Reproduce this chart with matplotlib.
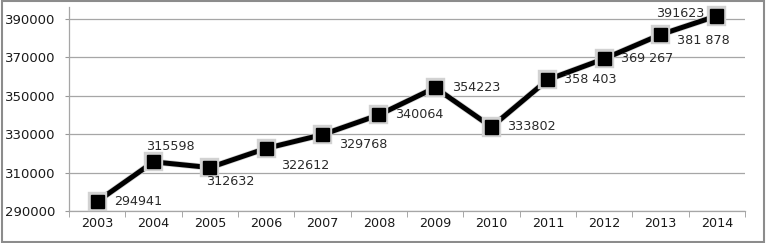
import matplotlib
matplotlib.use("Agg")
import matplotlib.pyplot as plt
import matplotlib.patheffects as pe
from matplotlib.patches import Rectangle

# ── Data ──────────────────────────────────────────────────────
years  = ["2003", "2004", "2005", "2006", "2007", "2008",
          "2009", "2010", "2011", "2012", "2013", "2014"]
values = [294941, 315598, 312632, 322612, 329768, 340064,
          354223, 333802, 358403, 369267, 381878, 391623]
labels = ["294941", "315598", "312632", "322612", "329768", "340064",
          "354223", "333802", "358 403", "369 267", "381 878", "391623"]
y_ticks = [290000, 310000, 330000, 350000, 370000, 390000]

# label placement (points offset, horizontal alignment)
offsets = [(12, 0, "left"), (12, 11, "center"), (-3, -10, "left"),
           (11, -12, "left"), (12, -7, "left"), (12, 0, "left"),
           (12, 0, "left"), (11, 0, "left"), (12, 0, "left"),
           (12, 0, "left"), (12, -4, "left"), (-9, 2, "right")]

plt.rcParams["font.family"] = "DejaVu Sans"

fig = plt.figure(figsize=(7.67, 2.43), dpi=100)
ax = fig.add_axes([69 / 767, 32 / 243, 676 / 767, 203.5 / 243])

x = list(range(len(years)))
ax.plot(x, values, color="black", lw=3.6, marker="s", ms=9.5,
        mfc="black", mec="black", clip_on=False, zorder=3,
        path_effects=[pe.Stroke(linewidth=4.6, foreground="#d2d2d2"), pe.Normal()])

for xi, v, lab, (dx, dy, ha) in zip(x, values, labels, offsets):
    ax.annotate(lab, (xi, v), xytext=(dx, dy), textcoords="offset points",
                ha=ha, va="center", fontsize=9.2, color="#2a2a2a")

ax.set_xlim(-0.5, len(years) - 0.5)
ax.set_ylim(290000, 396000)
ax.set_yticks(y_ticks)
ax.set_yticklabels([str(t) for t in y_ticks], fontsize=9.5, color="#1a1a1a")
ax.set_xticks(x)
ax.set_xticklabels(years, fontsize=9.2, color="#1a1a1a")
ax.set_xticks([i - 0.5 for i in range(len(years) + 1)], minor=True)
ax.tick_params(axis="x", which="major", length=0, pad=4)
ax.tick_params(axis="x", which="minor", length=4, color="#999999", direction="out")
ax.tick_params(axis="y", length=3, color="#999999", pad=6.5)

ax.grid(axis="y", color="#a6a6a6", lw=0.9)
ax.set_axisbelow(True)
for s in ["top", "right"]:
    ax.spines[s].set_visible(False)
for s in ["left", "bottom"]:
    ax.spines[s].set_color("#a6a6a6")
    ax.spines[s].set_linewidth(0.9)

# outer frame
fig.patches.append(Rectangle((0.002, 0.004), 0.994, 0.99, transform=fig.transFigure,
                             fill=False, edgecolor="#8c8c8c", lw=1.5))

plt.savefig("out.png", dpi=100)
